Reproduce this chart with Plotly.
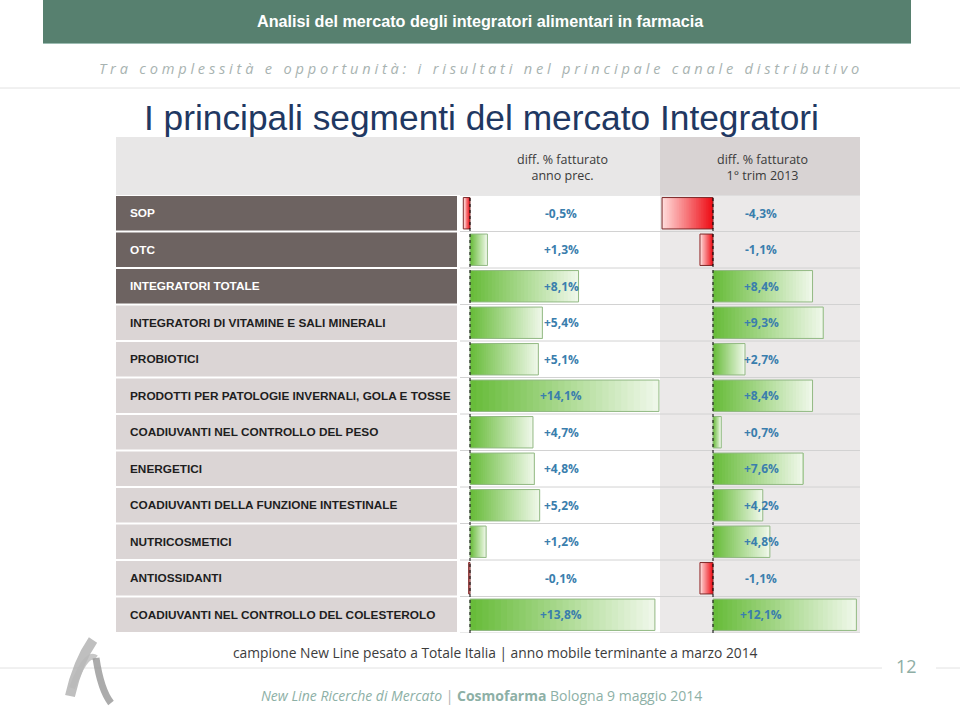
import plotly.graph_objects as go

# ---------------- data ----------------
categories = [
    "SOP",
    "OTC",
    "INTEGRATORI TOTALE",
    "INTEGRATORI DI VITAMINE E SALI MINERALI",
    "PROBIOTICI",
    "PRODOTTI PER PATOLOGIE INVERNALI, GOLA E TOSSE",
    "COADIUVANTI NEL CONTROLLO DEL PESO",
    "ENERGETICI",
    "COADIUVANTI DELLA FUNZIONE INTESTINALE",
    "NUTRICOSMETICI",
    "ANTIOSSIDANTI",
    "COADIUVANTI NEL CONTROLLO DEL COLESTEROLO",
]
diff_anno_prec = [-0.5, 1.3, 8.1, 5.4, 5.1, 14.1, 4.7, 4.8, 5.2, 1.2, -0.1, 13.8]
diff_1trim_2013 = [-4.3, -1.1, 8.4, 9.3, 2.7, 8.4, 0.7, 7.6, 4.2, 4.8, -1.1, 12.1]
col_headers = ["diff. % fatturato<br>anno prec.", "diff. % fatturato<br>1° trim 2013"]
highlight_rows = 3  # first rows with dark label background

# ---------------- helpers ----------------
W, H = 960, 710


def px(x):
    return x / W


def py(y):
    return 1 - y / H


def lerp(c1, c2, t):
    return "rgb(%d,%d,%d)" % tuple(round(a + (b - a) * t) for a, b in zip(c1, c2))


def fmt(v):
    s = ("%+.1f" % v).replace(".", ",")
    return s + "%"


GREEN0, GREEN1 = (104, 188, 58), (238, 247, 232)
RED0, RED1 = (238, 14, 22), (255, 218, 218)
N = 30

fig = go.Figure()

for axis, vals in (("x", diff_anno_prec), ("x2", diff_1trim_2013)):
    for k in range(N):
        t = k / (N - 1)
        colors = [lerp(GREEN0, GREEN1, t) if v >= 0 else lerp(RED0, RED1, t) for v in vals]
        fig.add_trace(go.Bar(
            y=categories,
            x=[v * (N - k) / N for v in vals],
            base=[v * k / N for v in vals],
            orientation="h",
            width=0.86,
            marker=dict(color=colors, line=dict(width=0)),
            xaxis=axis, yaxis="y",
            showlegend=False, hoverinfo="skip",
        ))
    fig.add_trace(go.Bar(
        y=categories,
        x=vals,
        orientation="h",
        width=0.86,
        marker=dict(color="rgba(0,0,0,0)",
                    line=dict(width=1, color=["#93b985" if v >= 0 else "#7d2a2a" for v in vals])),
        xaxis=axis, yaxis="y",
        showlegend=False, hoverinfo="skip",
    ))

# scales: col1 13.4 px per %, zero at x=470 ; col2 11.85 px per %, zero at x=713
s1, z1 = 13.4, 470
s2, z2 = 11.85, 713
fig.update_layout(
    width=W, height=H,
    margin=dict(l=0, r=0, t=0, b=0),
    paper_bgcolor="white", plot_bgcolor="rgba(0,0,0,0)",
    barmode="overlay",
    xaxis=dict(domain=[px(460), px(660)], range=[(460 - z1) / s1, (660 - z1) / s1],
               visible=False, fixedrange=True),
    xaxis2=dict(domain=[px(660), px(860)], range=[(660 - z2) / s2, (860 - z2) / s2],
                visible=False, anchor="y", fixedrange=True),
    yaxis=dict(domain=[py(633), py(195)], range=[len(categories) - 0.5, -0.5],
               visible=False, categoryorder="array", categoryarray=categories),
)

shapes = []
# banner
shapes.append(dict(type="rect", xref="paper", yref="paper", x0=px(43), x1=px(911), y0=py(43), y1=py(0),
                   fillcolor="#57806f", line=dict(width=0), layer="below"))
shapes.append(dict(type="line", xref="paper", yref="paper", x0=px(43), x1=px(911), y0=py(43.5), y1=py(43.5),
                   line=dict(color="#9cbcb2", width=1), layer="below"))
# separator line under subtitle
shapes.append(dict(type="line", xref="paper", yref="paper", x0=0, x1=1, y0=py(88), y1=py(88),
                   line=dict(color="#e2e2e2", width=1), layer="below"))
# table header row
shapes.append(dict(type="rect", xref="paper", yref="paper", x0=px(116), x1=px(660), y0=py(195), y1=py(137),
                   fillcolor="#e8e7e7", line=dict(width=0), layer="below"))
shapes.append(dict(type="rect", xref="paper", yref="paper", x0=px(660), x1=px(860), y0=py(195), y1=py(137),
                   fillcolor="#d8d3d3", line=dict(width=0), layer="below"))
# col2 body
shapes.append(dict(type="rect", xref="paper", yref="paper", x0=px(660), x1=px(860), y0=py(633), y1=py(195),
                   fillcolor="#ebe9e9", line=dict(width=0), layer="below"))
# label cells
for i, c in enumerate(categories):
    shapes.append(dict(type="rect", xref="paper", yref="y", x0=px(116), x1=px(457), y0=i - 0.47, y1=i + 0.47,
                       fillcolor="#6d6361" if i < highlight_rows else "#dbd5d5",
                       line=dict(width=0), layer="below"))
# row separators in value columns
for i in range(len(categories) + 1):
    shapes.append(dict(type="line", xref="paper", yref="y", x0=px(460), x1=px(860), y0=i - 0.5, y1=i - 0.5,
                       line=dict(color="#d2d2d2", width=1), layer="below"))
# zero lines
for xr in ("x", "x2"):
    shapes.append(dict(type="line", xref=xr, yref="paper", x0=0, x1=0, y0=py(633), y1=py(195),
                       line=dict(color="black", width=1, dash="dot"), layer="above"))
# footer line
shapes.append(dict(type="line", xref="paper", yref="paper", x0=0, x1=px(882), y0=py(668), y1=py(668),
                   line=dict(color="#e2e2e2", width=1), layer="below"))
shapes.append(dict(type="line", xref="paper", yref="paper", x0=px(936), x1=1, y0=py(668), y1=py(668),
                   line=dict(color="#e2e2e2", width=1), layer="below"))


# logo (stylised strokes)
def curve(p0, c1, c2, p1):
    pts = [p0, c1, c2, p1]
    return "M %f %f C %f %f %f %f %f %f" % tuple(v for (x, y) in pts for v in (px(x), py(y)))


logo_paths = [
    (curve((93, 640), (82, 656), (74, 678), (70, 696)), 10, "rgba(175,175,175,0.8)"),
    (curve((72, 688), (80, 668), (88, 652), (96, 658)), 6, "rgba(185,185,185,0.8)"),
    (curve((96, 658), (99, 678), (104, 694), (111, 703)), 7, "rgba(150,150,150,0.8)"),
]
for p, w, col in logo_paths:
    shapes.append(dict(type="path", xref="paper", yref="paper", path=p,
                       line=dict(color=col, width=w), layer="below"))

fig.update_layout(shapes=shapes)

ann = []
SANS = "Liberation Sans, Arial, sans-serif"


def A(**kw):
    d = dict(showarrow=False, xanchor="center", yanchor="middle")
    d.update(kw)
    ann.append(d)


A(text="<b>Analisi del mercato degli integratori alimentari in farmacia</b>",
  xref="paper", yref="paper", x=px(480), y=py(21),
  font=dict(family=SANS, size=16.2, color="white"))
sub = "Tra complessità e opportunità: i risultati nel principale canale distributivo"
sub_spaced = " \u00a0 ".join(" ".join(list(w)) for w in sub.split(" "))
A(text="<i>" + sub_spaced + "</i>", xref="paper", yref="paper", x=px(479), y=py(68),
  font=dict(family="Open Sans", size=14.6, color="#a8b3b1"))
A(text="I principali segmenti del mercato Integratori", xref="paper", yref="paper",
  x=px(481), y=py(117),
  font=dict(family=SANS, size=35.3, color="#1f3862"))
for xr, hd in (("x domain", col_headers[0]), ("x2 domain", col_headers[1])):
    A(text=hd, xref=xr, yref="paper", x=0.51, y=py(167),
      font=dict(family="Open Sans", size=12.5, color="#3a3a3a"))
for i, c in enumerate(categories):
    A(text="<b>%s</b>" % c, xref="paper", yref="y", x=px(128), y=i, xanchor="left",
      font=dict(family=SANS, size=11.8,
                color="white" if i < highlight_rows else "#1e1e1e"))
for xr, vals in (("x domain", diff_anno_prec), ("x2 domain", diff_1trim_2013)):
    for i, v in enumerate(vals):
        A(text="<b>%s</b>" % fmt(v), xref=xr, yref="y", x=0.505, y=i,
          font=dict(family="Open Sans", size=12, color="#3a7ead"))
A(text="campione New Line pesato a Totale Italia | anno mobile terminante a marzo 2014",
  xref="paper", yref="paper", x=px(495), y=py(652),
  font=dict(family="Open Sans", size=13.8, color="#3c3c3c"))
A(text="12", xref="paper", yref="paper", x=px(906), y=py(666),
  font=dict(family="Open Sans", size=18, color="#8eaea5"))
A(text="<i>New Line Ricerche di Mercato</i> <span style='color:#b0b0b0'>|</span> "
       "<b>Cosmofarma</b> Bologna 9 maggio 2014",
  xref="paper", yref="paper", x=px(481), y=py(695),
  font=dict(family="Open Sans", size=14, color="#8db0a6"))
fig.update_layout(annotations=ann)

fig.write_html("out.html")
